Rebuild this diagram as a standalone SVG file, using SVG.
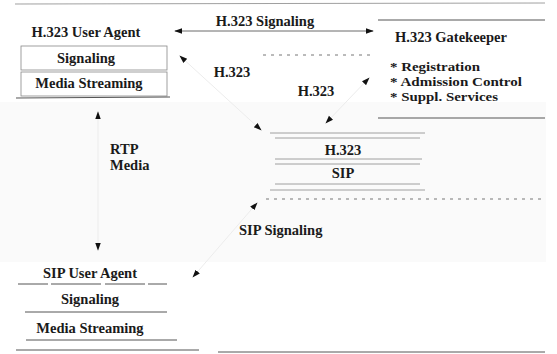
<svg xmlns="http://www.w3.org/2000/svg" width="557" height="354" viewBox="0 0 557 354">
<defs>
<marker id="ah" viewBox="0 0 10 10" refX="9" refY="5" markerWidth="8" markerHeight="8" markerUnits="userSpaceOnUse" orient="auto-start-reverse">
<path d="M0,1.5 L10,5 L0,8.5 z" fill="#111"/>
</marker>
</defs>
<style>
text{font-family:'Liberation Serif','DejaVu Serif',serif;font-weight:bold;font-size:14.5px;fill:#1a1a1a}
.c{text-anchor:middle}
.b{font-size:13px}
.ln{stroke:#555;stroke-width:1;fill:none}
.lt{stroke:#888;stroke-width:0.8;fill:none}
.dash{stroke:#777;stroke-width:1;stroke-dasharray:3 5;fill:none}
.faint{stroke:#ececec;stroke-width:1;fill:none}
.arr{stroke:#444;stroke-width:0.8;fill:none}
</style>
<rect x="0" y="0" width="557" height="354" fill="#ffffff"/>
<rect x="0" y="102" width="546" height="160" fill="#fafafa"/>
<line class="lt" x1="15" y1="4" x2="545" y2="3"/>

<g id="h323-user-agent">
<text class="c" x="86" y="37">H.323 User Agent</text>
<rect class="lt" x="21" y="46" width="146" height="24"/>
<text class="c" x="86" y="63">Signaling</text>
<rect class="lt" x="21" y="72" width="146" height="24"/>
<text class="c" x="89" y="88">Media Streaming</text>
<line class="ln" x1="16" y1="98" x2="170" y2="97"/>
</g>

<g id="h323-gatekeeper">
<line class="ln" x1="378" y1="20" x2="545" y2="20"/>
<text x="395" y="42">H.323 Gatekeeper</text>
<text class="b" x="390" y="71" textLength="90" lengthAdjust="spacingAndGlyphs">* Registration</text>
<text class="b" x="390" y="86" textLength="132" lengthAdjust="spacingAndGlyphs">* Admission Control</text>
<text class="b" x="390" y="101" textLength="108" lengthAdjust="spacingAndGlyphs">* Suppl. Services</text>
<line class="ln" x1="378" y1="118" x2="545" y2="118"/>
</g>

<g id="gateway">
<line class="lt" x1="270" y1="133" x2="425" y2="133"/>
<line class="lt" x1="275" y1="138" x2="420" y2="138"/>
<text class="c" x="343" y="155">H.323</text>
<line class="lt" x1="275" y1="159" x2="422" y2="159"/>
<line class="lt" x1="275" y1="164" x2="420" y2="164"/>
<text class="c" x="343" y="178">SIP</text>
<line class="lt" x1="275" y1="184" x2="420" y2="184"/>
<line class="lt" x1="270" y1="190" x2="425" y2="190"/>
</g>

<g id="sip-user-agent">
<text class="c" x="90" y="278">SIP User Agent</text>
<line class="ln" x1="18" y1="284" x2="167" y2="284" stroke-dasharray="30 3 50 4 40 3"/>
<text class="c" x="90" y="304">Signaling</text>
<line class="ln" x1="25" y1="312" x2="167" y2="312"/>
<text class="c" x="90" y="333">Media Streaming</text>
<line class="ln" x1="26" y1="340" x2="177" y2="340"/>
<line class="ln" x1="16" y1="350" x2="199" y2="350"/>
</g>

<line class="ln" x1="218" y1="352" x2="545" y2="352"/>
<line class="dash" x1="263" y1="55" x2="373" y2="55"/>
<line class="dash" x1="266" y1="199" x2="542" y2="199"/>

<g id="connectors">
<line class="arr" x1="175" y1="31" x2="373" y2="31" marker-start="url(#ah)" marker-end="url(#ah)"/>
<text class="c" x="265" y="26">H.323 Signaling</text>
<line class="faint" x1="180" y1="56" x2="261" y2="130" marker-start="url(#ah)" marker-end="url(#ah)"/>
<text class="c" x="232" y="77">H.323</text>
<line class="faint" x1="369" y1="78" x2="326" y2="123" marker-start="url(#ah)" marker-end="url(#ah)"/>
<text class="c" x="316" y="96">H.323</text>
<line class="faint" x1="98" y1="112" x2="98" y2="250" marker-start="url(#ah)" marker-end="url(#ah)"/>
<text x="110" y="154">RTP</text>
<text x="110" y="170">Media</text>
<line class="faint" x1="193" y1="277" x2="257" y2="203" marker-start="url(#ah)" marker-end="url(#ah)"/>
<text x="239" y="235">SIP Signaling</text>
</g>
</svg>
